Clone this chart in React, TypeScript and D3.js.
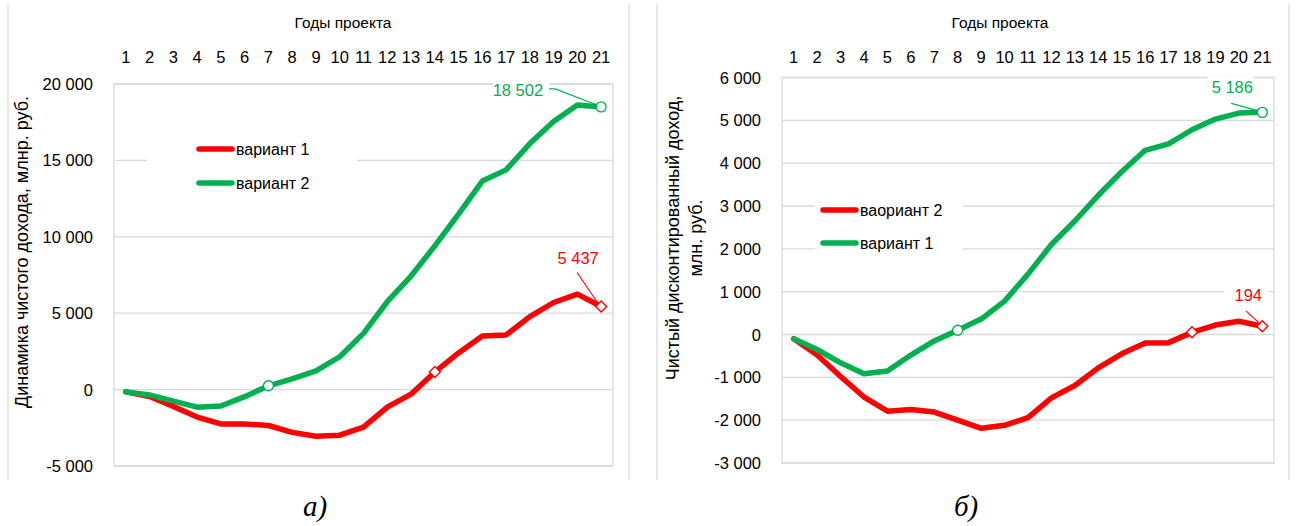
import React from "react";
import * as d3 from "d3";

// ---------- DATA ----------
const years = ["1", "2", "3", "4", "5", "6", "7", "8", "9", "10", "11", "12", "13", "14", "15", "16", "17", "18", "19", "20", "21"];

// Panel а) — Динамика чистого дохода
const leftVariant1 = [-150, -450, -1100, -1800, -2250, -2250, -2350, -2800, -3050, -2980, -2450, -1150, -300, 1150, 2400, 3500, 3580, 4780, 5700, 6250, 5437];
const leftVariant2 = [-150, -350, -750, -1150, -1070, -460, 250, 700, 1230, 2150, 3680, 5750, 7430, 9400, 11480, 13650, 14380, 16100, 17550, 18620, 18502];
const leftTicks = [-5000, 0, 5000, 10000, 15000, 20000];

// Panel б) — Чистый дисконтированный доход
const rightVariant2 = [-100, -480, -980, -1460, -1790, -1750, -1810, -2000, -2190, -2120, -1940, -1480, -1190, -780, -450, -200, -190, 50, 220, 310, 194];
const rightVariant1 = [-100, -350, -660, -915, -850, -480, -150, 100, 360, 780, 1410, 2100, 2650, 3250, 3800, 4300, 4450, 4780, 5030, 5170, 5186];
const rightTicks = [-3000, -2000, -1000, 0, 1000, 2000, 3000, 4000, 5000, 6000];

const RED = "#ff0000";
const GREEN = "#00b050";
const GRID = "#d9d9d9";
const FONT = "'Liberation Sans', Arial, sans-serif";

const fmt = d3
  .formatLocale({ decimal: ",", thousands: " ", grouping: [3], currency: ["", ""], minus: "-" })
  .format(",d");

type Label = { dx: number; dy: number; anchor: string; box: [number, number, number, number]; leader: string };
type Series = { name: string; values: number[]; color: string; marker: "circle" | "diamond"; markAt: number[]; label: Label };

type Cfg = {
  plot: { left: number; right: number; top: number; bottom: number };
  yDomain: [number, number];
  ticks: number[];
  titleX: number;
  yTitle: string[];
  yTitleX: number[];
  yTitleY: number;
  frame: [number, number];
  legendBox: [number, number, number, number];
  legendX: number;
  legendY: number[];
  legendOrder: Series[];
  drawOrder: Series[];
  caption: string;
  captionX: number;
};

function Panel({ cfg }: { cfg: Cfg }) {
  const { plot } = cfg;
  const x = d3.scalePoint<string>().domain(years).range([plot.left, plot.right]).padding(0.5);
  const y = d3.scaleLinear().domain(cfg.yDomain).range([plot.bottom, plot.top]);
  const line = d3
    .line<number>()
    .x((_, i) => x(years[i]) as number)
    .y((d) => y(d));

  return (
    <g>
      {/* chart frame */}
      <line x1={cfg.frame[0]} x2={cfg.frame[0]} y1={4} y2={480} stroke={GRID} strokeWidth={1.2} />
      <line x1={cfg.frame[1]} x2={cfg.frame[1]} y1={4} y2={480} stroke={GRID} strokeWidth={1.2} />

      {/* gridlines */}
      {cfg.ticks.map((t) => (
        <line key={t} x1={plot.left} x2={plot.right} y1={y(t)} y2={y(t)} stroke={GRID} strokeWidth={1.3} />
      ))}
      <rect x={plot.left} y={plot.top} width={plot.right - plot.left} height={plot.bottom - plot.top} fill="none" stroke={GRID} strokeWidth={1.3} />

      {/* y tick labels */}
      {cfg.ticks.map((t) => (
        <text key={t} x={plot.left - 21} y={y(t)} textAnchor="end" dominantBaseline="central" fontSize={16.5} fill="#000">
          {fmt(t)}
        </text>
      ))}

      {/* categories (top) */}
      {years.map((c) => (
        <text key={c} x={x(c)} y={57} textAnchor="middle" dominantBaseline="central" fontSize={16.5} fill="#000">
          {c}
        </text>
      ))}
      <text x={cfg.titleX} y={22} textAnchor="middle" dominantBaseline="central" fontSize={15.5} fill="#000">
        Годы проекта
      </text>

      {/* y title */}
      {cfg.yTitle.map((t, i) => (
        <text
          key={i}
          transform={`translate(${cfg.yTitleX[i]},${cfg.yTitleY}) rotate(-90)`}
          textAnchor="middle"
          dominantBaseline="central"
          fontSize={18}
          fill="#000"
        >
          {t}
        </text>
      ))}

      {/* legend */}
      <rect x={cfg.legendBox[0]} y={cfg.legendBox[1]} width={cfg.legendBox[2]} height={cfg.legendBox[3]} fill="#fff" />
      {cfg.legendOrder.map((s, i) => (
        <g key={s.name}>
          <line x1={cfg.legendX} x2={cfg.legendX + 33} y1={cfg.legendY[i]} y2={cfg.legendY[i]} stroke={s.color} strokeWidth={5.5} strokeLinecap="round" />
          <text x={cfg.legendX + 37} y={cfg.legendY[i]} dominantBaseline="central" fontSize={16} fill="#000">
            {s.name}
          </text>
        </g>
      ))}

      {/* lines */}
      {cfg.drawOrder.map((s) => (
        <path key={s.name} d={line(s.values) || ""} fill="none" stroke={s.color} strokeWidth={5.5} strokeLinejoin="round" strokeLinecap="round" />
      ))}

      {/* markers */}
      {cfg.drawOrder.map((s) =>
        s.markAt.map((i) => {
          const px = x(years[i]) as number;
          const py = y(s.values[i]);
          return s.marker === "circle" ? (
            <circle key={s.name + i} cx={px} cy={py} r={5} fill="#fff" stroke={s.color} strokeWidth={1.4} />
          ) : (
            <path
              key={s.name + i}
              d={`M${px},${py - 5.5}L${px + 5.5},${py}L${px},${py + 5.5}L${px - 5.5},${py}Z`}
              fill="#fff"
              stroke={s.color}
              strokeWidth={1.4}
            />
          );
        })
      )}

      {/* data labels for the last point */}
      {cfg.drawOrder.map((s) => {
        const last = s.values.length - 1;
        const px = x(years[last]) as number;
        const py = y(s.values[last]);
        const L = s.label;
        return (
          <g key={"lab" + s.name} transform={`translate(${px},${py})`}>
            <rect x={L.box[0]} y={L.box[1]} width={L.box[2]} height={L.box[3]} fill="#fff" />
            <path d={L.leader} fill="none" stroke={s.color} strokeWidth={1.1} />
            <text x={L.dx} y={L.dy} textAnchor={L.anchor} dominantBaseline="central" fontSize={16.5} fill={s.color}>
              {fmt(s.values[last])}
            </text>
          </g>
        );
      })}

      {/* caption */}
      <text x={cfg.captionX} y={516} textAnchor="middle" fontSize={29} fontStyle="italic" fontFamily="'Liberation Serif', 'Times New Roman', serif" fill="#000">
        {cfg.caption}
      </text>
    </g>
  );
}

const leftRed: Series = {
  name: "вариант 1",
  values: leftVariant1,
  color: RED,
  marker: "diamond",
  markAt: [13, 20],
  label: { dx: -23, dy: -49, anchor: "middle", box: [-46, -59, 46, 20], leader: "M-24,-34L-3,-3" },
};
const leftGreen: Series = {
  name: "вариант 2",
  values: leftVariant2,
  color: GREEN,
  marker: "circle",
  markAt: [6, 20],
  label: { dx: -58, dy: -17, anchor: "end", box: [-108, -28, 56, 22], leader: "M-52,-18H-46L-4,-2" },
};
const rightRed: Series = {
  name: "ваориант 2",
  values: rightVariant2,
  color: RED,
  marker: "diamond",
  markAt: [17, 20],
  label: { dx: -14, dy: -31, anchor: "middle", box: [-38, -41, 44, 20], leader: "M-16,-15L-3,-3" },
};
const rightGreen: Series = {
  name: "вариант 1",
  values: rightVariant1,
  color: GREEN,
  marker: "circle",
  markAt: [7, 20],
  label: { dx: -30, dy: -25, anchor: "middle", box: [-55, -36, 46, 21], leader: "M-31,-9L-4,-1.5" },
};

const leftCfg: Cfg = {
  plot: { left: 114, right: 613, top: 84, bottom: 466 },
  yDomain: [-5000, 20000],
  ticks: leftTicks,
  titleX: 343,
  yTitle: ["Динамика чистого дохода, млнр. руб."],
  yTitleX: [22],
  yTitleY: 252,
  frame: [8, 629],
  legendBox: [147, 131, 210, 70],
  legendX: 199,
  legendY: [149, 183],
  legendOrder: [leftRed, leftGreen],
  drawOrder: [leftRed, leftGreen],
  caption: "а)",
  captionX: 315,
};

const rightCfg: Cfg = {
  plot: { left: 782, right: 1274, top: 77.5, bottom: 463 },
  yDomain: [-3000, 6000],
  ticks: rightTicks,
  titleX: 1000,
  yTitle: ["Чистый дисконтированный доход,", "млн. руб."],
  yTitleX: [673, 696],
  yTitleY: 238,
  frame: [657, 1289],
  legendBox: [815, 192, 148, 68],
  legendX: 823,
  legendY: [210, 243],
  legendOrder: [rightRed, rightGreen],
  drawOrder: [rightRed, rightGreen],
  caption: "б)",
  captionX: 966,
};

export default function App() {
  return (
    <svg
      width={1296}
      height={526}
      viewBox="0 0 1296 526"
      style={{ position: "absolute", left: 0, top: 0, display: "block", background: "#fff" }}
      fontFamily={FONT}
    >
      <rect width={1296} height={526} fill="#fff" />
      <Panel cfg={leftCfg} />
      <Panel cfg={rightCfg} />
    </svg>
  );
}
